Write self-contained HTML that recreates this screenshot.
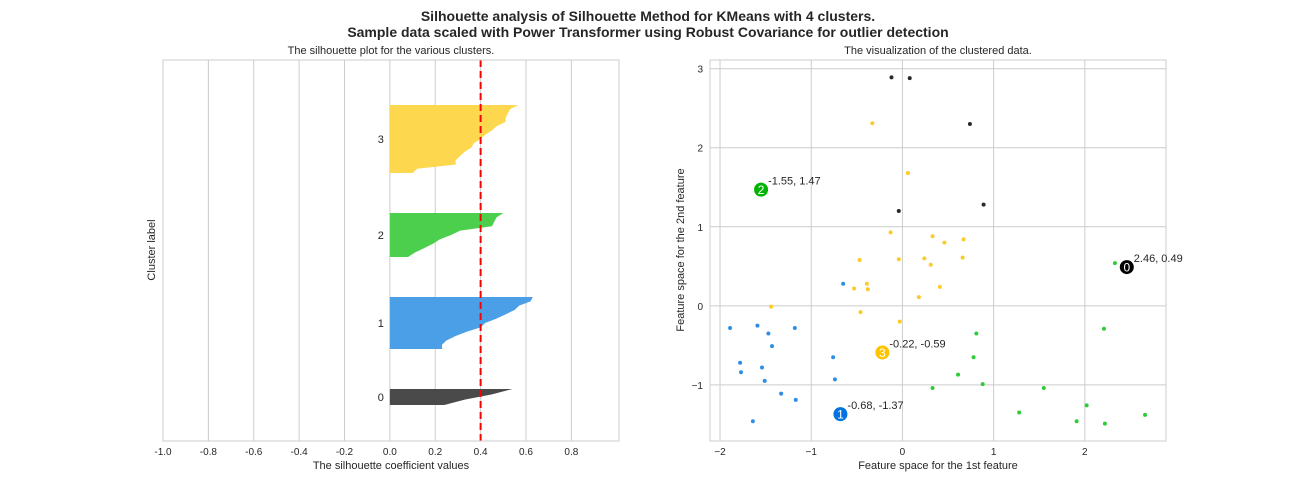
<!DOCTYPE html>
<html><head><meta charset="utf-8"><style>
body{margin:0;background:#fff;}
svg{display:block;font-family:"Liberation Sans",Arial,sans-serif;}
</style></head><body>
<svg id="s" width="1296" height="504" viewBox="0 0 1296 504">
<text x="648" y="21" text-anchor="middle" font-size="14" font-weight="bold" fill="#262626">Silhouette analysis of Silhouette Method for KMeans with 4 clusters.</text>
<text x="648" y="37" text-anchor="middle" font-size="14" font-weight="bold" fill="#262626">Sample data scaled with Power Transformer using Robust Covariance for outlier detection</text>
<text x="391" y="54" text-anchor="middle" font-size="11" fill="#262626">The silhouette plot for the various clusters.</text>
<text x="938" y="54" text-anchor="middle" font-size="11" fill="#262626">The visualization of the clustered data.</text>
<text x="391" y="469" text-anchor="middle" font-size="11" fill="#262626">The silhouette coefficient values</text>
<text transform="translate(155,250) rotate(-90)" text-anchor="middle" font-size="11" fill="#262626">Cluster label</text>
<text x="938" y="469" text-anchor="middle" font-size="11" fill="#262626">Feature space for the 1st feature</text>
<text transform="translate(684,250) rotate(-90)" text-anchor="middle" font-size="11" fill="#262626">Feature space for the 2nd feature</text>
<g id="L"></g><g id="R"></g>
</svg>
<script>
// Silhouette data (values per cluster, any order)
const silClusters = ["0","1","2","3"];
const sil0 = [0.54,0.45,0.33,0.24];
const sil1 = [0.63,0.62,0.57,0.55,0.51,0.47,0.42,0.40,0.34,0.29,0.25,0.23,0.23];
const sil2 = [0.50,0.47,0.46,0.45,0.31,0.27,0.22,0.19,0.15,0.11,0.08];
const sil3 = [0.565,0.53,0.52,0.51,0.51,0.47,0.45,0.42,0.40,0.37,0.36,0.33,0.31,0.29,0.29,0.12,0.10];
const silAvg = [0.40];
const silXTicks = [-1.0,-0.8,-0.6,-0.4,-0.2,0.0,0.2,0.4,0.6,0.8];
// Scatter data
const blackX=[-0.12,0.08,0.74,-0.04,0.89];
const blackY=[2.89,2.88,2.30,1.20,1.28];
const yellowX=[-0.33,0.06,-0.13,0.33,0.46,0.67,-0.47,-0.04,0.24,0.31,0.66,-0.39,-0.53,-0.38,0.41,0.18,-1.44,-0.46,-0.03];
const yellowY=[2.31,1.68,0.93,0.88,0.80,0.84,0.58,0.59,0.60,0.52,0.61,0.28,0.22,0.21,0.24,0.11,-0.01,-0.08,-0.20];
const blueX=[-0.65,-1.89,-1.59,-1.47,-1.18,-1.43,-0.76,-1.78,-1.77,-1.54,-1.51,-0.74,-1.33,-1.17,-1.64];
const blueY=[0.28,-0.28,-0.25,-0.35,-0.28,-0.51,-0.65,-0.72,-0.84,-0.78,-0.95,-0.93,-1.11,-1.19,-1.46];
const greenX=[2.33,2.21,0.81,0.78,0.61,0.88,0.33,1.55,1.28,2.02,1.91,2.22,2.66];
const greenY=[0.54,-0.29,-0.35,-0.65,-0.87,-0.99,-1.04,-1.04,-1.35,-1.26,-1.46,-1.49,-1.38];
const centerX=[2.46,-0.68,-1.55,-0.22];
const centerY=[0.49,-1.37,1.47,-0.59];
const centerLabels=["2.46, 0.49","-0.68, -1.37","-1.55, 1.47","-0.22, -0.59"];
const scXTicks=[-2,-1,0,1,2];
const scYTicks=[-1,0,1,2,3];

const NS="http://www.w3.org/2000/svg";
function mk(p,t,a){const e=document.createElementNS(NS,t);for(const k in a)e.setAttribute(k,a[k]);p.appendChild(e);return e;}
const fillCols=["#4a4a4a","#4a9fe6","#4ccf4c","#fdd84e"];
const ptCols=["#2a2a2a","#2e8ee6","#2ecc3a","#fccb27"];
const ctrCols=["#000000","#0073e0","#00b300","#ffc400"];

// Left plot
const L=document.getElementById('L');
const lx0=163,lx1=619,ly0=60,ly1=441;
const sx=v=>lx0+(v+1)*(lx1-lx0)/2.01;
const silData=[sil0,sil1,sil2,sil3];
const nTot=silData.reduce((a,b)=>a+b.length,0);
const yMaxL=nTot+10*(silClusters.length+1)+0.25;
const syL=v=>ly1-(v-1)*(ly1-ly0)/yMaxL;
silXTicks.forEach(t=>{
  const l=mk(L,'line',{x1:sx(t),x2:sx(t),y1:ly0,y2:ly1,stroke:'#cccccc','stroke-width':1});
  
  
  const tx=mk(L,'text',{x:sx(t),y:ly1+14,'text-anchor':'middle','font-size':10,fill:'#262626'});
  tx.textContent=t.toFixed(1);
  
  
});
let yl=10;
silData.forEach((arr,i)=>{
  const s=arr.slice().sort((a,b)=>a-b);
  const n=s.length;
  let d=`M${sx(0)},${syL(yl)}`;
  s.forEach((v,j)=>{d+=` L${sx(v)},${syL(yl+(n>1?j*n/(n-1):0))}`;});
  d+=` L${sx(0)},${syL(yl+n)} Z`;
  const p=mk(L,'path',{d:d,fill:fillCols[i]});
  
  
  const tx=mk(L,'text',{x:sx(-0.04),y:syL(yl+n/2)+4,'text-anchor':'middle','font-size':11,fill:'#262626'});
  tx.textContent=silClusters[i];
  
  
  yl+=n+10;
});
const av=mk(L,'line',{x1:sx(silAvg[0]),x2:sx(silAvg[0]),y1:ly0,y2:ly1,stroke:'#ff0000','stroke-width':2,'stroke-dasharray':'7,4'});


const lf=mk(L,'rect',{x:lx0,y:ly0,width:lx1-lx0,height:ly1-ly0,fill:'none',stroke:'#cccccc'});



// Right plot
const R=document.getElementById('R');
const rx0=710,rx1=1166,ry0=60,ry1=441;
const xmin=-2.11,xmax=2.89,ymin=-1.71,ymax=3.11;
const X=v=>rx0+(v-xmin)*(rx1-rx0)/(xmax-xmin);
const Y=v=>ry1-(v-ymin)*(ry1-ry0)/(ymax-ymin);
scXTicks.forEach(t=>{
  const l=mk(R,'line',{x1:X(t),x2:X(t),y1:ry0,y2:ry1,stroke:'#cccccc'});
  
  
  const tx=mk(R,'text',{x:X(t),y:ry1+14,'text-anchor':'middle','font-size':10,fill:'#262626'});
  tx.textContent=t<0?'\u2212'+(-t):String(t);
  
  
});
scYTicks.forEach(t=>{
  const l=mk(R,'line',{x1:rx0,x2:rx1,y1:Y(t),y2:Y(t),stroke:'#cccccc'});
  
  
  const tx=mk(R,'text',{x:rx0-7,y:Y(t)+4,'text-anchor':'end','font-size':10,fill:'#262626'});
  tx.textContent=t<0?'\u2212'+(-t):String(t);
  
  
});
const rf=mk(R,'rect',{x:rx0,y:ry0,width:rx1-rx0,height:ry1-ry0,fill:'none',stroke:'#cccccc'});


const groups=[[blackX,blackY],[blueX,blueY],[greenX,greenY],[yellowX,yellowY]];
groups.forEach((g,i)=>{
  g[0].forEach((x,j)=>{
    const c=mk(R,'circle',{cx:X(x),cy:Y(g[1][j]),r:2,fill:ptCols[i]});
    
    
  });
});
centerX.forEach((x,i)=>{
  const c=mk(R,'circle',{cx:X(x),cy:Y(centerY[i]),r:7,fill:ctrCols[i]});
  
  
  const t=mk(R,'text',{x:X(x),y:Y(centerY[i])+4.5,'text-anchor':'middle','font-size':12,fill:'#fff'});
  t.textContent=String(i);
  
  
  const lb=mk(R,'text',{x:X(x)+7,y:Y(centerY[i])-5,'font-size':11,fill:'#262626'});
  lb.textContent=centerLabels[i];
  
  
});
</script>
</body></html>
